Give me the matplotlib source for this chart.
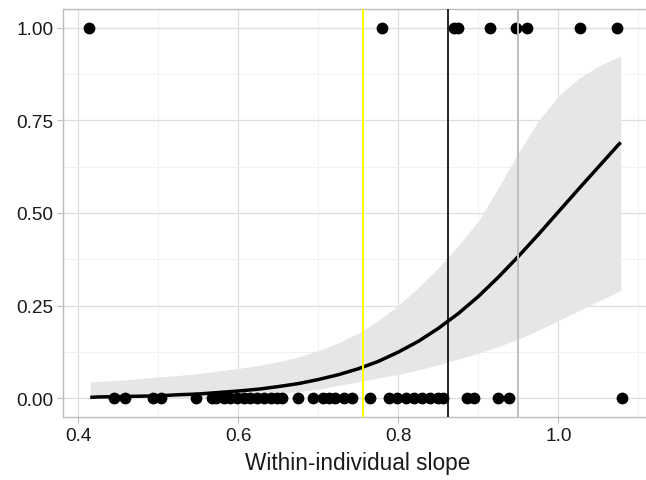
import matplotlib
matplotlib.use("Agg")
import matplotlib.pyplot as plt
from matplotlib.ticker import MultipleLocator, FixedLocator

plt.rcParams['font.family'] = ['Liberation Sans', 'DejaVu Sans']

# Observed outcomes
x_one = [0.414, 0.779, 0.869, 0.874, 0.914, 0.947, 0.961, 1.027, 1.073]
x_zero = [0.445, 0.459, 0.493, 0.503, 0.547, 0.567, 0.572, 0.582, 0.590, 0.599,
          0.607, 0.615, 0.624, 0.632, 0.641, 0.649, 0.655, 0.675, 0.694, 0.706,
          0.713, 0.721, 0.732, 0.742, 0.765, 0.788, 0.798, 0.809, 0.819, 0.829,
          0.840, 0.850, 0.856, 0.886, 0.894, 0.925, 0.938, 1.079]

# Fitted logistic curve with confidence band
fit_x = [0.415, 0.425, 0.45, 0.475, 0.50, 0.525, 0.55, 0.575, 0.60, 0.625,
         0.65, 0.675, 0.70, 0.725, 0.75, 0.775, 0.80, 0.825, 0.85, 0.875,
         0.90, 0.925, 0.95, 0.975, 1.00, 1.025, 1.05, 1.075, 1.078]
fit_y = [0.003, 0.004, 0.005, 0.006, 0.007, 0.010, 0.012, 0.016, 0.020, 0.025,
         0.032, 0.040, 0.051, 0.064, 0.080, 0.100, 0.125, 0.154, 0.189, 0.229,
         0.275, 0.327, 0.383, 0.442, 0.503, 0.564, 0.624, 0.684, 0.690]
fit_hi = [0.045, 0.046, 0.049, 0.053, 0.058, 0.062, 0.067, 0.074, 0.081, 0.089,
          0.099, 0.112, 0.129, 0.150, 0.176, 0.210, 0.251, 0.299, 0.352, 0.412,
          0.478, 0.568, 0.662, 0.748, 0.815, 0.862, 0.896, 0.921, 0.923]
fit_lo = [0.000, 0.000, 0.000, 0.001, 0.001, 0.001, 0.002, 0.004, 0.006, 0.009,
          0.013, 0.018, 0.025, 0.035, 0.045, 0.055, 0.065, 0.077, 0.091, 0.106,
          0.122, 0.140, 0.160, 0.184, 0.210, 0.236, 0.262, 0.288, 0.291]

# Reference lines
vlines = [0.756, 0.862, 0.950]
vline_colors = ['#ffff00', '#000000', '#bebebe']

x_ticks = [0.4, 0.6, 0.8, 1.0]
x_labels = ['0.4', '0.6', '0.8', '1.0']
y_ticks = [0.0, 0.25, 0.5, 0.75, 1.0]
y_labels = ['0.00', '0.25', '0.50', '0.75', '1.00']

fig = plt.figure(figsize=(6.46, 4.81), dpi=100)
ax = fig.add_axes([63/646, 1 - 418/481, 589/646, 408/481])

ax.fill_between(fit_x, fit_lo, fit_hi, color='#e6e6e6', lw=0, zorder=2)
ax.scatter(x_one, [1.0] * len(x_one), s=72, color='black', lw=0, zorder=3)
ax.scatter(x_zero, [0.0] * len(x_zero), s=72, color='black', lw=0, zorder=3)
ax.plot(fit_x, fit_y, color='black', lw=2.5, zorder=4,
        solid_capstyle='butt', solid_joinstyle='round')

for v, c in zip(vlines, vline_colors):
    ax.axvline(v, color=c, lw=1.4 if c != '#000000' else 1.2, zorder=5)

ax.set_xlim(0.381, 1.117)
ax.set_ylim(-0.05, 1.05)
ax.xaxis.set_major_locator(FixedLocator(x_ticks))
ax.set_xticklabels(x_labels)
ax.yaxis.set_major_locator(FixedLocator(y_ticks))
ax.set_yticklabels(y_labels)
ax.xaxis.set_minor_locator(MultipleLocator(0.1))
ax.yaxis.set_minor_locator(FixedLocator([0.125, 0.375, 0.625, 0.875]))

ax.grid(which='major', color='#dedede', lw=0.9, zorder=0)
ax.grid(which='minor', color='#efefef', lw=0.6, zorder=0)
ax.set_axisbelow(True)
for s in ax.spines.values():
    s.set_color('#bdbdbd')
    s.set_linewidth(1.0)

ax.tick_params(which='major', length=4, width=0.8, color='#bdbdbd',
               labelsize=13.7, labelcolor='#1a1a1a', pad=3)
ax.tick_params(which='minor', length=0)

ax.set_xlabel('Within-individual slope', fontsize=16.3, color='#1a1a1a', labelpad=5)

fig.savefig('out.png', dpi=100)
